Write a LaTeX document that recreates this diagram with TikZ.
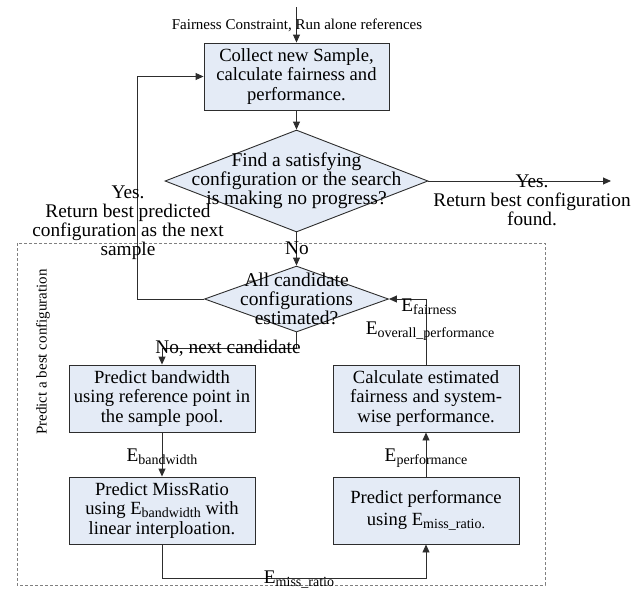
\documentclass[tikz,border=0pt]{standalone}
\usepackage{fontspec}
\setmainfont{Liberation Serif}
\usetikzlibrary{arrows.meta,shapes.geometric}
\definecolor{boxfill}{RGB}{228,235,246}
\definecolor{edgecol}{RGB}{45,45,45}
\newcommand\Esub[1]{E\raisebox{-3pt}{\fontsize{14}{14}\selectfont #1}}
\begin{document}
\begin{tikzpicture}[x=1pt,y=-1pt,line width=0.9pt,
  >={Triangle[length=8pt,width=7pt]},
  procbox/.style={draw=edgecol,fill=boxfill,minimum width=186pt,minimum height=67pt,inner sep=0pt,align=center,font=\fontsize{18.6}{19.5}\selectfont},
  decision/.style={draw=edgecol,fill=boxfill,diamond,inner sep=0pt},
  dtext/.style={align=center,inner sep=0pt,font=\fontsize{19.5}{19}\selectfont},
  lbl/.style={align=center,inner sep=0pt,font=\fontsize{19.3}{19}\selectfont},
  small/.style={inner sep=0pt,font=\fontsize{15}{15}\selectfont},
  flow/.style={draw=edgecol,->},
  frame/.style={draw=gray,dash pattern=on 3pt off 2pt,line width=0.6pt}]
\useasboundingbox (0,0) rectangle (639,595);

% dashed frame
\draw[frame] (17,243) rectangle (545,585);
\node[small,rotate=90] (vl) at (43,352) {Predict a best configuration};

% top box
\coordinate (start) at (296.5,7);
\node[procbox,minimum width=185pt] (b1) at (296.5,76.5) {Collect new Sample,\\calculate fairness and\\performance.};
\draw[flow] (start) -- (b1.north);
\node[small] (fc) at (297,25) {Fairness Constraint, Run alone references};

% decision 1
\node[decision,minimum width=263pt,minimum height=102pt] (d1) at (296.5,181) {};
\node[dtext] (d1t) at (d1) {Find a satisfying\\configuration or the search\\is making no progress?};
\draw[flow] (b1.south) -- (d1.north);
\coordinate (yesend) at (611,181);
\draw[flow] (d1.east) -- (yesend);
\node[lbl] (yesr) at (532,200.5) {Yes.\\Return best configuration\\found.};

% decision 2
\node[decision,minimum width=184pt,minimum height=66pt] (d2) at (296.5,299) {};
\node[dtext] (d2t) at (d2) {All candidate\\configurations\\estimated?};
\draw[flow] (d1.south) -- (d2.north);
\node[lbl] (no) at (297,248) {No};

% loop back
\coordinate (loopx) at (137,0);
\draw[flow] (d2.west) -- (d2.west -| loopx) |- (b1.west);
\node[lbl] (yesl) at (128,222.5) {Yes.\\Return best predicted\\configuration as the next\\sample};

% process boxes
\node[procbox] (pa) at (162,398.5) {Predict bandwidth\\using reference point in\\the sample pool.};
\node[procbox] (pb) at (162,510.5) {Predict MissRatio\\using \Esub{bandwidth} with\\linear interploation.};
\node[procbox] (pc) at (426,398.5) {Calculate estimated\\fairness and system-\\wise performance.};
\node[procbox] (pd) at (426,510.5) {Predict performance\\[2pt]using \Esub{miss\_ratio.}};

\coordinate (nx) at (296.5,348);
\draw[flow] (d2.south) -- (nx) -| (pa.north);
\node[lbl] (nolbl) at (228,348) {No, next candidate};

\draw[flow] (pa.south) -- (pb.north);
\node[lbl] (ebw) at (162,457) {\Esub{bandwidth}};

\coordinate (mr) at (299,578);
\draw[flow] (pb.south) |- (mr) -| (pd.south);
\node[lbl] (emr) at (299,580) {\Esub{miss\_ratio}};

\draw[flow] (pd.north) -- (pc.south);
\node[lbl] (eperf) at (426,458) {\Esub{performance}};

\draw[flow] (pc.north) |- (d2.east);
\node[lbl] (efair) at (429,307) {\Esub{fairness}};
\node[lbl] (eover) at (430,331) {\Esub{overall\_performance}};
\end{tikzpicture}
\end{document}
